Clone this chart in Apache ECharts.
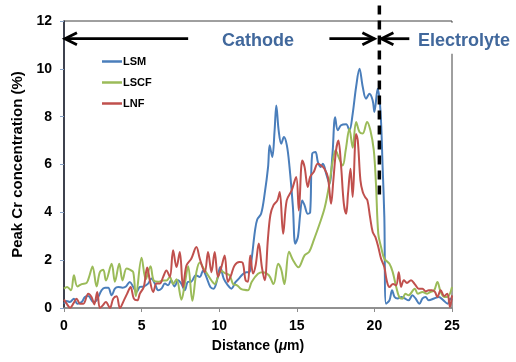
<!DOCTYPE html>
<html>
<head>
<meta charset="utf-8">
<script src="https://cdn.jsdelivr.net/npm/echarts@6/dist/echarts.min.js"></script>
<style>
  html, body { margin: 0; padding: 0; background: #fff; }
  #chart { width: 516px; height: 362px; }
</style>
</head>
<body>
<div id="chart"></div>
<script>
// axis ticks
var xTicks = [0, 5, 10, 15, 20, 25];
var yTicks = [0, 2, 4, 6, 8, 10, 12];

// [distance um, peak Cr %]
var lsm = [[0,0.18],[0.17,0.29],[0.38,0.25],[0.64,0.39],[0.86,0.18],[1.14,0.25],[1.35,0.46],[1.56,0.5],[1.89,0.25],[2.1,0.32],[2.42,0.74],[2.64,0.85],[2.85,0.85],[3.07,0.53],[3.28,0.81],[3.49,0.88],[3.77,0.85],[3.99,0.9],[4.24,1.09],[4.46,0.88],[4.67,0.67],[4.89,0.88],[5.14,0.9],[5.42,1.02],[5.64,1.23],[5.85,1.02],[6.07,0.74],[6.28,0.81],[6.5,1.02],[6.71,0.95],[6.9,1.16],[7.13,0.9],[7.35,1.16],[7.56,1.02],[7.78,0.74],[7.99,1.09],[8.2,1.1],[8.49,1.37],[8.75,1.3],[8.96,1.57],[9.17,1.3],[9.43,0.88],[9.64,0.81],[9.86,1.16],[10.07,1.71],[10.29,1.23],[10.56,0.95],[10.78,0.81],[11.06,1.09],[11.27,1.23],[11.5,1.4],[11.75,1.5],[11.95,1.5],[12.1,2.1],[12.3,3.2],[12.45,3.7],[12.7,3.94],[12.93,4.78],[13.15,5.9],[13.25,6.8],[13.42,6.31],[13.57,7.43],[13.68,8.47],[13.83,7.43],[14.0,6.87],[14.17,7.15],[14.36,6.8],[14.53,5.9],[14.75,4.22],[14.9,2.69],[15.07,2.97],[15.22,3.94],[15.35,4.5],[15.5,4.29],[15.71,3.94],[15.86,4.0],[15.99,6.45],[16.2,6.52],[16.36,6.1],[16.53,5.9],[16.68,6.03],[16.9,5.6],[17.1,5.2],[17.3,6.45],[17.47,7.98],[17.64,7.43],[17.85,7.64],[18.18,7.68],[18.39,7.43],[18.6,8.12],[18.82,9.24],[19.04,10.0],[19.25,9.24],[19.46,8.75],[19.68,8.96],[19.89,8.68],[20.0,8.2],[20.21,9.17],[20.39,8.26],[20.53,5.9],[20.64,3.8],[20.75,0.18],[20.97,0.32],[21.14,0.74],[21.3,0.46],[21.5,0.4],[21.75,0.46],[21.95,0.4],[22.2,0.32],[22.45,0.53],[22.65,0.4],[22.9,0.18],[23.1,0.4],[23.3,0.46],[23.5,0.32],[23.85,0.4],[24.15,0.46],[24.45,0.32],[24.72,0.18],[24.9,0.4],[25,0.32]];

var lscf = [[0,0.81],[0.2,0.88],[0.45,0.74],[0.64,1.37],[0.86,0.9],[1.14,1.0],[1.46,1.05],[1.64,1.35],[1.84,1.74],[2.1,0.9],[2.31,1.5],[2.53,1.6],[2.7,1.15],[3.07,1.85],[3.28,1.1],[3.56,1.85],[3.77,1.15],[4.03,1.65],[4.24,1.6],[4.46,1.5],[4.63,0.5],[5.0,2.1],[5.27,1.2],[5.57,1.75],[5.78,1.15],[6.07,1.1],[6.39,1.15],[6.6,1.15],[6.82,1.3],[7.03,1.0],[7.25,1.2],[7.57,0.35],[7.78,1.0],[8.0,1.75],[8.27,0.3],[8.53,1.5],[8.75,1.9],[9.0,1.65],[9.28,1.37],[9.5,1.15],[9.71,1.0],[9.92,1.3],[10.13,1.55],[10.4,1.45],[10.67,1.37],[10.9,1.0],[11.15,0.95],[11.4,0.8],[11.6,0.76],[11.85,0.74],[12.1,1.1],[12.5,1.43],[12.8,1.5],[13.2,1.37],[13.5,1.0],[13.8,1.85],[14.0,1.6],[14.2,1.0],[14.5,2.35],[14.76,2.0],[15.1,1.7],[15.5,2.2],[15.8,2.35],[16.1,2.85],[16.46,3.5],[16.8,4.2],[17.1,5.2],[17.32,6.17],[17.5,6.6],[17.7,6.3],[17.96,5.96],[18.15,6.6],[18.39,7.5],[18.6,6.7],[18.82,7.78],[19.04,7.36],[19.25,7.3],[19.53,7.78],[19.74,7.43],[19.96,6.6],[20.1,5.2],[20.25,3.1],[20.43,2.55],[20.64,2.06],[20.97,1.85],[21.18,1.5],[21.4,0.9],[21.6,0.46],[21.8,0.39],[22.0,0.6],[22.2,0.53],[22.6,0.8],[22.8,0.6],[23.1,0.67],[23.4,0.6],[23.6,0.67],[23.85,0.74],[24.06,1.09],[24.27,0.67],[24.5,0.46],[24.7,0.46],[25,0.88]];

var lnf = [[0,0.35],[0.17,0.18],[0.39,0.01],[0.6,0.18],[0.81,0.39],[1.03,0.18],[1.25,0.18],[1.56,0.6],[1.78,0.45],[1.95,0.15],[2.14,0.67],[2.31,0.0],[2.49,0.1],[2.7,0.25],[2.96,0.0],[3.17,0.39],[3.39,0.49],[3.6,0.0],[3.86,0.32],[4.07,0.6],[4.29,0.88],[4.5,0.39],[4.72,0.32],[4.89,0.6],[5.14,0.88],[5.36,1.69],[5.53,1.16],[5.75,0.67],[5.96,1.02],[6.17,1.02],[6.39,1.3],[6.6,1.57],[6.82,1.3],[7.03,2.41],[7.25,1.71],[7.46,2.34],[7.67,0.88],[7.89,1.78],[8.2,2.06],[8.53,2.55],[8.75,2.06],[9.07,1.5],[9.28,2.34],[9.5,1.5],[9.71,2.34],[9.92,1.3],[10.14,1.71],[10.35,2.2],[10.56,1.09],[10.78,1.4],[10.99,1.78],[11.3,1.92],[11.5,1.9],[11.7,1.16],[11.85,1.1],[12.0,2.2],[12.18,1.44],[12.35,1.8],[12.55,2.7],[12.75,1.71],[12.93,1.16],[13.14,2.9],[13.3,3.9],[13.5,4.3],[13.75,4.5],[13.9,4.85],[14.12,3.1],[14.35,4.5],[14.67,4.92],[14.96,5.48],[15.13,4.08],[15.35,6.17],[15.5,5.9],[15.71,5.06],[15.86,5.48],[16.1,5.7],[16.35,6.03],[16.57,5.96],[16.78,5.82],[17.0,5.48],[17.21,4.36],[17.35,5.3],[17.53,6.59],[17.68,7.0],[17.85,5.96],[18.03,4.36],[18.18,3.94],[18.3,4.78],[18.46,5.82],[18.6,4.64],[18.82,7.28],[18.93,7.0],[19.1,5.34],[19.25,4.85],[19.4,4.64],[19.55,4.5],[19.72,3.8],[19.89,3.18],[20.06,2.97],[20.25,2.55],[20.43,2.06],[20.64,1.71],[20.79,1.16],[20.97,0.88],[21.2,1.0],[21.4,0.95],[21.57,1.5],[21.72,0.88],[21.9,1.16],[22.1,1.05],[22.36,1.16],[22.6,1.0],[22.85,0.81],[23.1,0.81],[23.3,0.7],[23.5,0.74],[23.7,0.74],[23.9,0.67],[24.06,0.46],[24.27,0.74],[24.5,0.5],[24.7,0.6],[24.87,0.04],[25,0.53]];

var seriesNames = ["LSM", "LSCF", "LNF"];
var seriesColors = ["#4a7ebb", "#9bbb59", "#c0504d"];

// annotation positions in data units
var boundaryX = 20.32;
var boundaryYTop = 12.65;
var boundaryYBottom = 4.7;
var arrowY = 11.26;

var font = "'Liberation Sans', Arial, sans-serif";
var labelBlue = "#41689c";

var chart = echarts.init(document.getElementById("chart"));

function line(name, data, color) {
  return {
    name: name,
    type: "line",
    data: data,
    smooth: 0.35,
    showSymbol: false,
    lineStyle: { color: color, width: 2 },
    itemStyle: { color: color },
    z: 3
  };
}

chart.setOption({
  animation: false,
  textStyle: { fontFamily: font },
  grid: {
    left: 64, right: 64, top: 21, bottom: 54,
    show: true, borderColor: "#404040", borderWidth: 1
  },
  legend: {
    orient: "vertical",
    left: 97,
    top: 50,
    icon: "rect",
    itemWidth: 20,
    itemHeight: 2.5,
    itemGap: 8,
    data: seriesNames,
    textStyle: { fontFamily: font, fontSize: 11, fontWeight: "bold", color: "#000", lineHeight: 13, padding: [0, 0, 0, -4] }
  },
  xAxis: {
    type: "value",
    min: xTicks[0],
    max: xTicks[xTicks.length - 1],
    interval: xTicks[1] - xTicks[0],
    name: "{n|Distance (}{i|\u03bc}{n|m)}",
    nameLocation: "middle",
    nameGap: 31,
    nameTextStyle: {
      rich: {
        n: { fontFamily: font, fontSize: 14, fontWeight: "bold", color: "#000" },
        i: { fontFamily: font, fontSize: 14, fontWeight: "bold", fontStyle: "italic", color: "#000" }
      }
    },
    axisLine: { show: true, lineStyle: { color: "#8c8c8c", width: 1.5 } },
    axisTick: { show: true, length: 4, lineStyle: { color: "#8c8c8c" } },
    axisLabel: { fontFamily: font, fontSize: 14, fontWeight: "bold", color: "#000", margin: 11 },
    splitLine: { show: false }
  },
  yAxis: {
    type: "value",
    min: yTicks[0],
    max: yTicks[yTicks.length - 1],
    interval: yTicks[1] - yTicks[0],
    name: "Peak Cr concentration (%)",
    nameLocation: "middle",
    nameGap: 36,
    nameTextStyle: { fontFamily: font, fontSize: 15, fontWeight: "bold", color: "#000" },
    axisLine: { show: true, lineStyle: { color: "#1c2233", width: 1.5 } },
    axisTick: { show: true, length: 4, lineStyle: { color: "#8aa4c8" } },
    axisLabel: { fontFamily: font, fontSize: 14, fontWeight: "bold", color: "#000", margin: 12 },
    splitLine: { show: false }
  },
  series: [
    line(seriesNames[0], lsm, seriesColors[0]),
    line(seriesNames[1], lscf, seriesColors[1]),
    line(seriesNames[2], lnf, seriesColors[2])
  ]
});

function px(x, y) {
  return chart.convertToPixel({ gridIndex: 0 }, [x, y]);
}

function arrow(fromX, toX, y) {
  var a = px(fromX, y), b = px(toX, y);
  var dir = b[0] > a[0] ? 1 : -1;
  var s = { stroke: "#000", lineWidth: 2.8, fill: null };
  return [
    { type: "polyline", shape: { points: [a, b] }, style: s, z: 20 },
    { type: "polyline", shape: { points: [[b[0] - dir * 12, b[1] - 6], [b[0], b[1]], [b[0] - dir * 12, b[1] + 6]] }, style: s, z: 20 }
  ];
}

var dashTop = px(boundaryX, boundaryYTop);
var dashBottom = px(boundaryX, boundaryYBottom);
var catPos = px(12.5, arrowY);
var gridRight = px(25, 0)[0];

var graphics = []
  .concat(arrow(8.0, 0.06, arrowY))
  .concat(arrow(17.1, 20.0, arrowY))
  .concat(arrow(22.25, 20.45, arrowY));

graphics.push({
  type: "line",
  shape: { x1: dashTop[0], y1: dashTop[1], x2: dashBottom[0], y2: dashBottom[1] },
  style: { stroke: "#000", lineWidth: 3.5, lineDash: [9, 6] },
  z: 25
});
graphics.push({
  type: "text",
  x: catPos[0], y: catPos[1] + 2,
  style: { text: "Cathode", fill: labelBlue, font: "bold 18px " + font, textAlign: "center", textVerticalAlign: "middle" },
  z: 20
});
// white box behind the electrolyte label breaks the right border
graphics.push({
  type: "rect",
  shape: { x: gridRight - 38, y: catPos[1] - 16, width: 100, height: 31 },
  style: { fill: "#fff" },
  z: 18
});
graphics.push({
  type: "text",
  x: 418, y: catPos[1] + 2,
  style: { text: "Electrolyte", fill: labelBlue, font: "bold 18px " + font, textAlign: "left", textVerticalAlign: "middle" },
  z: 20
});

chart.setOption({ graphic: graphics });
</script>
</body>
</html>
